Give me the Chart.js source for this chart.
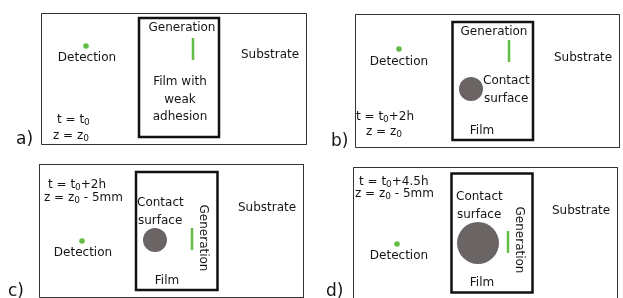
<!DOCTYPE html>
<html lang="en">
<head>
  <meta charset="UTF-8">
  <title>Contact surface growth</title>
  <style>
    body { margin: 0; background: #fff; }
    #wrap { width: 623px; height: 298px; }
  </style>
</head>
<body>
  <div id="wrap"><canvas id="chart" width="623" height="298"></canvas></div>

  <script src="https://cdn.jsdelivr.net/npm/chart.js"></script>
  <script>
    // --- data ---
    const panelLabels = ['a)', 'b)', 'c)', 'd)'];
    const timeLabels = ['t = t_0', 't = t_0+2h', 't = t_0+2h', 't = t_0+4.5h'];
    const depthLabels = ['z = z_0', 'z = z_0', 'z = z_0 - 5mm', 'z = z_0 - 5mm'];
    const filmLabels = [['Film with', 'weak', 'adhesion'], ['Film'], ['Film'], ['Film']];
    const contactRadius = [0, 12, 12, 21];
    const genVertical = [false, false, true, true];

    // --- layout (diagram units = px of the 623x298 figure) ---
    const outerBox = [[41.5, 13.5, 306.5, 144.5], [355.5, 14.5, 619.5, 147.5],
                      [39.5, 164.5, 303.5, 297.5], [353.5, 167.5, 617.5, 310]];
    const filmBox = [[139, 18, 219, 137], [452.5, 22, 533, 140],
                     [136, 172, 217.5, 290], [451.5, 173.5, 532.5, 292.5]];
    const detDot = [[86, 46], [399, 49], [82, 241], [397, 244]];
    const detText = [[87, 58], [399, 62], [83, 253], [399, 256]];
    const genLine = [[193, 38, 60], [509, 40, 62], [192, 228, 250], [508, 231, 253]];
    const genText = [[182, 28], [494, 32], [203, 238], [519, 240]];
    const subText = [[270, 55], [583, 58], [267, 208], [581, 211]];
    const contactPos = [null, [471, 89], [155, 240], [478, 243]];
    const contactText = [null, [483, 81], [137, 203], [456, 197]];
    const filmText = [[180, 82], [482, 131], [167, 281], [482, 283]];
    const timePos = [[57, 120], [356, 117], [48, 185], [359, 182]];
    const depthPos = [[53, 136], [366, 132], [44, 198], [355, 194]];
    const labelPos = [[16, 144], [331, 146], [8, 296], [326, 296]];

    const GREEN = '#63bd45';
    const GREY = '#6b6464';
    const FONT = '"DejaVu Sans", Verdana, sans-serif';

    function rect(b) {
      return [{x: b[0], y: b[1]}, {x: b[2], y: b[1]}, {x: b[2], y: b[3]}, {x: b[0], y: b[3]}, {x: b[0], y: b[1]}];
    }

    const datasets = [];
    outerBox.forEach(b => datasets.push({
      type: 'scatter', data: rect(b), showLine: true, borderColor: '#333',
      borderWidth: 1, pointRadius: 0, fill: false, tension: 0,
      borderJoinStyle: 'miter', borderCapStyle: 'square'
    }));
    filmBox.forEach(b => datasets.push({
      type: 'scatter', data: rect(b), showLine: true, borderColor: '#111',
      borderWidth: 2.5, pointRadius: 0, fill: false, tension: 0,
      borderJoinStyle: 'miter', borderCapStyle: 'square'
    }));
    genLine.forEach(g => datasets.push({
      type: 'scatter', data: [{x: g[0], y: g[1]}, {x: g[0], y: g[2]}], showLine: true,
      borderColor: GREEN, borderWidth: 2.5, pointRadius: 0
    }));
    datasets.push({
      type: 'scatter', data: detDot.map(p => ({x: p[0], y: p[1]})),
      pointRadius: 2.8, backgroundColor: GREEN, borderWidth: 0
    });
    datasets.push({
      type: 'bubble',
      data: contactPos.map((p, i) => p ? {x: p[0], y: p[1], r: contactRadius[i]} : null).filter(Boolean),
      backgroundColor: GREY, borderWidth: 0
    });

    // draw a string with "_0" subscripts, left aligned
    function subText0(ctx, str, x, y) {
      const parts = str.split('_0');
      let cx = x;
      parts.forEach((p, i) => {
        ctx.font = '12px ' + FONT;
        ctx.fillText(p, cx, y);
        cx += ctx.measureText(p).width;
        if (i < parts.length - 1) {
          ctx.font = '9px ' + FONT;
          ctx.fillText('0', cx, y + 3);
          cx += ctx.measureText('0').width;
        }
      });
    }

    const textPlugin = {
      id: 'diagramText',
      afterDatasetsDraw(chart) {
        const ctx = chart.ctx;
        const sx = v => chart.scales.x.getPixelForValue(v);
        const sy = v => chart.scales.y.getPixelForValue(v);
        ctx.save();
        ctx.fillStyle = '#151515';
        ctx.textBaseline = 'middle';
        panelLabels.forEach((lab, i) => {
          ctx.font = '12px ' + FONT;
          ctx.textAlign = 'center';
          ctx.fillText('Detection', sx(detText[i][0]), sy(detText[i][1]));
          ctx.fillText('Substrate', sx(subText[i][0]), sy(subText[i][1]));
          filmLabels[i].forEach((t, k) => ctx.fillText(t, sx(filmText[i][0]), sy(filmText[i][1] + (filmLabels[i].length > 1 ? k * 17.5 : 0))));
          if (genVertical[i]) {
            ctx.save();
            ctx.translate(sx(genText[i][0]), sy(genText[i][1]));
            ctx.rotate(Math.PI / 2);
            ctx.fillText('Generation', 0, 0);
            ctx.restore();
          } else {
            ctx.fillText('Generation', sx(genText[i][0]), sy(genText[i][1]));
          }
          if (contactText[i]) {
            ctx.textAlign = 'left';
            ctx.fillText('Contact', sx(contactText[i][0]), sy(contactText[i][1]));
            ctx.fillText('surface', sx(contactText[i][0] + 1), sy(contactText[i][1] + 18));
          }
          ctx.textAlign = 'left';
          subText0(ctx, timeLabels[i], sx(timePos[i][0]), sy(timePos[i][1]));
          subText0(ctx, depthLabels[i], sx(depthPos[i][0]), sy(depthPos[i][1]));
          ctx.font = '17px ' + FONT;
          ctx.textBaseline = 'alphabetic';
          ctx.fillText(lab, sx(labelPos[i][0]), sy(labelPos[i][1]));
          ctx.textBaseline = 'middle';
        });
        ctx.restore();
      }
    };

    new Chart(document.getElementById('chart'), {
      type: 'scatter',
      data: { datasets },
      options: {
        responsive: false,
        animation: false,
        layout: { padding: 0, autoPadding: false },
        plugins: { legend: { display: false }, tooltip: { enabled: false } },
        scales: {
          x: { type: 'linear', min: 0, max: 623, display: false },
          y: { type: 'linear', min: 0, max: 298, reverse: true, display: false }
        }
      },
      plugins: [textPlugin]
    });
  </script>
</body>
</html>
